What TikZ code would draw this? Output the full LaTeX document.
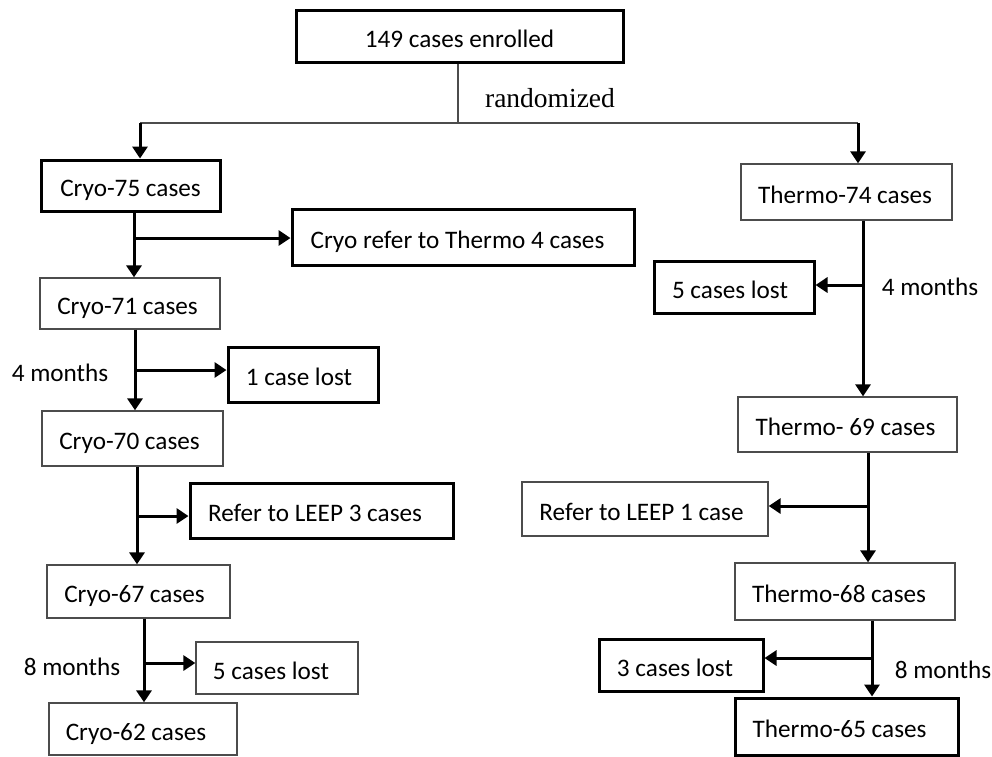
\documentclass[tikz,border=0pt]{standalone}
\usepackage{fontspec}
\setmainfont{Carlito}
\newfontfamily\serifr{Liberation Serif}
\usetikzlibrary{arrows.meta}
\begin{document}
\begin{tikzpicture}[x=1pt,y=-1pt,
  every node/.style={font=\fontsize{25.2}{30}\selectfont, inner sep=0pt},
  boxtxt/.style={text height=22pt, text depth=0pt},
  thickbox/.style={boxtxt, draw=black, line width=3pt},
  thinbox/.style={boxtxt, draw=black!70, line width=1.3pt},
  arr/.style={line width=3pt, -{Triangle[length=12pt,width=15pt]}},
  thinline/.style={draw=black!70, line width=1.2pt},
  lbl/.style={font=\fontsize{25.2}{30}\selectfont}]
\useasboundingbox (0,0) rectangle (992,756);
% boxes
\node[thickbox, minimum width=327pt, minimum height=52pt] (top) at (459.5,36) {149 cases enrolled};
\node[thickbox, minimum width=179pt, minimum height=51pt] (c75) at (130.5,185.5) {Cryo-75 cases};
\node[thickbox, minimum width=342pt, minimum height=56pt] (cref) at (463,237) {Cryo refer to Thermo 4 cases\kern11pt};
\node[thinbox, minimum width=180pt, minimum height=51pt] (c71) at (130,303.5) {Cryo-71 cases\kern5pt};
\node[thickbox, minimum width=150pt, minimum height=55pt] (lost1) at (303,374.5) {1 case lost\kern8pt};
\node[thinbox, minimum width=181pt, minimum height=55pt] (c70) at (132.5,438.5) {Cryo-70 cases\kern6pt};
\node[thickbox, minimum width=263pt, minimum height=55pt] (leep3) at (321.5,510.5) {Refer to LEEP 3 cases\kern13pt};
\node[thinbox, minimum width=183pt, minimum height=53pt] (c67) at (138.5,591.5) {Cryo-67 cases\kern8pt};
\node[thinbox, minimum width=162pt, minimum height=52pt] (lost5c) at (277,668) {5 cases lost\kern12pt};
\node[thinbox, minimum width=188pt, minimum height=52pt] (c62) at (143,729) {Cryo-62 cases\kern14pt};
\node[thinbox, minimum width=211pt, minimum height=56pt] (t74) at (846.5,192) {Thermo-74 cases\kern3pt};
\node[thickbox, minimum width=160pt, minimum height=52pt] (lost5t) at (734,287) {5 cases lost\kern8pt};
\node[thinbox, minimum width=219pt, minimum height=55pt] (t69) at (847.5,424.5) {Thermo- 69 cases\kern4pt};
\node[thinbox, minimum width=246pt, minimum height=54pt] (leep1) at (645,509) {Refer to LEEP 1 case\kern7pt};
\node[thinbox, minimum width=220pt, minimum height=57pt] (t68) at (845,591.5) {Thermo-68 cases\kern12pt};
\node[thickbox, minimum width=164pt, minimum height=52pt] (lost3) at (681,665) {3 cases lost\kern12pt};
\node[thickbox, minimum width=223pt, minimum height=57pt] (t65) at (846.5,726.5) {Thermo-65 cases\kern14pt};
% labels
\node[lbl] (m4l) at (60,373) {4 months};
\node[lbl] (m8l) at (72,667) {8 months};
\node[lbl] (m4r) at (930,287) {4 months};
\node[lbl] (m8r) at (943,670) {8 months};
\node[font=\serifr\fontsize{27.5}{30}\selectfont] (rand) at (550,98) {randomized};
% randomization split
\coordinate (split) at (458,123);
\coordinate (L) at (140,123);
\coordinate (R) at (858,123);
\draw[thinline] (top.south -| split) -- (split);
\draw[thinline] (L) -- (R);
\draw[arr] (L) -- (L |- c75.north);
\draw[arr] (R) -- (R |- t74.north);
% cryo arm
\coordinate (a1) at (134,238);
\draw[arr] (c75.south -| a1) -- (c71.north -| a1);
\draw[arr] (a1) -- (a1 -| cref.west);
\coordinate (a2) at (135,370);
\draw[arr] (c71.south -| a2) -- (c70.north -| a2);
\draw[arr] (a2) -- (a2 -| lost1.west);
\coordinate (a3) at (137,516);
\draw[arr] (c70.south -| a3) -- (c67.north -| a3);
\draw[arr] (a3) -- (a3 -| leep3.west);
\coordinate (a4) at (144,663);
\draw[arr] (c67.south -| a4) -- (c62.north -| a4);
\draw[arr] (a4) -- (a4 -| lost5c.west);
% thermo arm
\coordinate (b1) at (863,285);
\draw[arr] (t74.south -| b1) -- (t69.north -| b1);
\draw[arr] (b1) -- (b1 -| lost5t.east);
\coordinate (b2) at (868,506);
\draw[arr] (t69.south -| b2) -- (t68.north -| b2);
\draw[arr] (b2) -- (b2 -| leep1.east);
\coordinate (b3) at (872,658);
\draw[arr] (t68.south -| b3) -- (t65.north -| b3);
\draw[arr] (b3) -- (b3 -| lost3.east);
\end{tikzpicture}
\end{document}
